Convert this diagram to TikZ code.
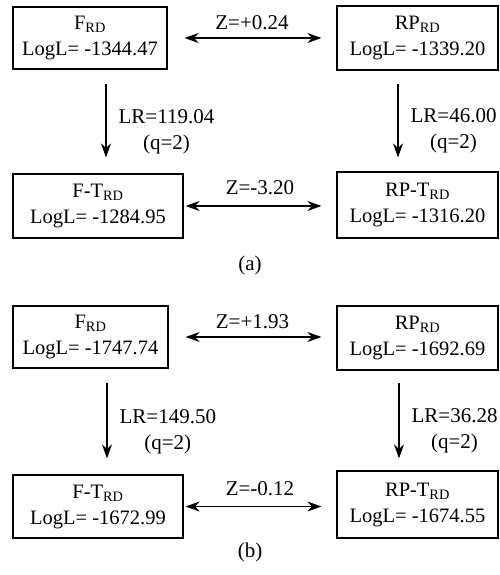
\documentclass[tikz,border=0pt]{standalone}
\usepackage{fontspec}
\setmainfont{Liberation Serif}
\usetikzlibrary{arrows.meta}
\begin{document}
\begin{tikzpicture}[x=1pt,y=-1pt,
  box/.style={draw, line width=1.2pt, inner sep=0pt, align=center, font=\fontsize{20.5}{26}\selectfont},
  lbl/.style={align=center, inner sep=0pt, font=\fontsize{21}{26}\selectfont},
  tip/.tip={Stealth[length=14pt,width=10pt,inset=4.5pt]},
  conn/.style={line width=1.2pt, -tip},
  dconn/.style={line width=1.2pt, tip-tip}]
\useasboundingbox (0,0) rectangle (500,575);

% ---------- (a) ----------
\node[box, minimum width=154pt, minimum height=62pt] (Fa)   at (90,38)    {F\textsubscript{RD}\\LogL= -1344.47};
\node[box, minimum width=161pt, minimum height=64pt] (RPa)  at (417.5,38) {RP\textsubscript{RD}\\LogL= -1339.20};
\node[box, minimum width=170pt, minimum height=64pt] (FTa)  at (98,206)   {F-T\textsubscript{RD}\\LogL= -1284.95};
\node[box, minimum width=161pt, minimum height=66pt] (RPTa) at (417.5,205){RP-T\textsubscript{RD}\\LogL= -1316.20};

\draw[dconn, shorten <=17pt, shorten >=15pt] (Fa.east) -- (Fa.east -| RPa.west)
  node[lbl, midway, above=8pt] (Za) {Z=+0.24};
\draw[dconn, shorten <=2pt, shorten >=15pt] (FTa.east) -- (FTa.east -| RPTa.west)
  node[lbl, midway, above=11pt] (Zb) {Z=-3.20};
\draw[conn, shorten <=14pt, shorten >=16pt] ([xshift=16pt]Fa.south) -- ([xshift=16pt]Fa.south |- FTa.north)
  node[lbl, midway, anchor=west, xshift=12pt, yshift=-10pt] (LRa) {LR=119.04\\(q=2)};
\draw[conn, shorten <=13pt, shorten >=14pt] ([xshift=-19.5pt]RPa.south) -- ([xshift=-19.5pt]RPa.south |- RPTa.north)
  node[lbl, midway, anchor=west, xshift=12pt, yshift=-10pt] (LRb) {LR=46.00\\(q=2)};
\node[lbl] (capa) at (250,265) {(a)};

% ---------- (b) ----------
\node[box, minimum width=155pt, minimum height=62pt] (Fb)   at (90.5,337)   {F\textsubscript{RD}\\LogL= -1747.74};
\node[box, minimum width=161pt, minimum height=64pt] (RPb)  at (417.5,338)  {RP\textsubscript{RD}\\LogL= -1692.69};
\node[box, minimum width=170pt, minimum height=63pt] (FTb)  at (98,506.5)   {F-T\textsubscript{RD}\\LogL= -1672.99};
\node[box, minimum width=161pt, minimum height=67pt] (RPTb) at (417.5,504.5){RP-T\textsubscript{RD}\\LogL= -1674.55};

\draw[dconn, shorten <=17pt, shorten >=15pt] (Fb.east) -- (Fb.east -| RPb.west)
  node[lbl, midway, above=8pt] (Zc) {Z=+1.93};
\draw[dconn, shorten <=2pt, shorten >=15pt] (FTb.east) -- (FTb.east -| RPTb.west)
  node[lbl, midway, above=10pt] (Zd) {Z=-0.12};
\draw[conn, shorten <=14pt, shorten >=16pt] ([xshift=16.5pt]Fb.south) -- ([xshift=16.5pt]Fb.south |- FTb.north)
  node[lbl, midway, anchor=west, xshift=12pt, yshift=-10pt] (LRc) {LR=149.50\\(q=2)};
\draw[conn, shorten <=12pt, shorten >=12pt] ([xshift=-18.5pt]RPb.south) -- ([xshift=-18.5pt]RPb.south |- RPTb.north)
  node[lbl, midway, anchor=west, xshift=12pt, yshift=-10pt] (LRd) {LR=36.28\\(q=2)};
\node[lbl] (capb) at (250,552) {(b)};
\end{tikzpicture}
\end{document}
